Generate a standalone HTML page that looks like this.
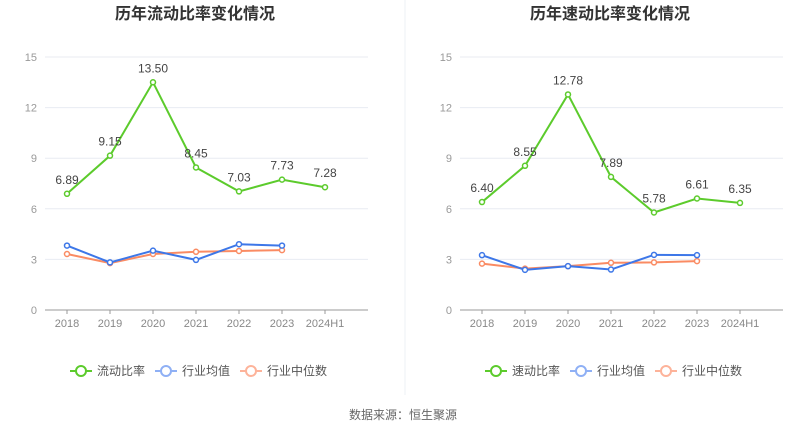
<!DOCTYPE html>
<html><head><meta charset="utf-8">
<style>
html,body{margin:0;padding:0;background:#fff;}
body{width:807px;height:436px;overflow:hidden;font-family:"Liberation Sans","Noto Sans CJK SC",sans-serif;}
svg text{font-family:"Liberation Sans","Noto Sans CJK SC",sans-serif;}
</style></head>
<body>
<svg id="c" width="807" height="436" xmlns="http://www.w3.org/2000/svg"></svg>
<script>
const categories=["2018","2019","2020","2021","2022","2023","2024H1"];
const yTicks=[0,3,6,9,12,15];
const leftMain=[6.89,9.15,13.50,8.45,7.03,7.73,7.28];
const leftAvg=[3.82,2.82,3.52,2.97,3.90,3.82];
const leftMed=[3.32,2.78,3.32,3.45,3.50,3.55];
const rightMain=[6.40,8.55,12.78,7.89,5.78,6.61,6.35];
const rightAvg=[3.25,2.38,2.60,2.40,3.27,3.25];
const rightMed=[2.75,2.45,2.60,2.80,2.82,2.90];
const leftTitle="历年流动比率变化情况", rightTitle="历年速动比率变化情况";
const leftLegend=["流动比率","行业均值","行业中位数"], rightLegend=["速动比率","行业均值","行业中位数"];

const NS="http://www.w3.org/2000/svg";
const svg=document.getElementById('c');
function mk(tag,attrs,parent){const e=document.createElementNS(NS,tag);for(const k in attrs)e.setAttribute(k,attrs[k]);(parent||svg).appendChild(e);return e;}
const Y0=310,Y15=57;
function yS(v){return Y0-(v/15)*(Y0-Y15);}

function panel(px,title,main,avg,med,legend,nm){
  const g=mk('g',{});
  
  
  const xS=i=>px+67+i*43;
  const t=mk('text',{x:px+195,y:19,'text-anchor':'middle','font-size':16,'font-weight':'bold',fill:'#333'},g);
  t.textContent=title;
  
  
  yTicks.forEach(v=>{
    if(v>0){const l=mk('line',{x1:px+45,x2:px+368,y1:yS(v),y2:yS(v),stroke:'#e8ebf2','stroke-width':1},g);
    
    }
    const tx=mk('text',{x:px+37,y:yS(v)+4,'text-anchor':'end','font-size':11,fill:'#999'},g);
    tx.textContent=v;
    
    
  });
  const ax=mk('line',{x1:px+45,x2:px+368,y1:Y0,y2:Y0,stroke:'#999','stroke-width':1},g);
  
  
  categories.forEach((c,i)=>{
    mk('line',{x1:xS(i),x2:xS(i),y1:Y0,y2:Y0+4,stroke:'#999'},g);
    const tx=mk('text',{x:xS(i),y:Y0+17,'text-anchor':'middle','font-size':11,fill:'#888'},g);
    tx.textContent=c;
    
    
  });
  function series(data,color,w,r,name,labels){
    const pts=data.map((v,i)=>xS(i)+','+yS(v)).join(' ');
    const pl=mk('polyline',{points:pts,fill:'none',stroke:color,'stroke-width':w},g);
    
    
    data.forEach((v,i)=>{
      const c=mk('circle',{cx:xS(i),cy:yS(v),r:r,fill:'#fff',stroke:color,'stroke-width':1.5},g);
      
      
      if(labels){const tx=mk('text',{x:xS(i),y:yS(v)-10,'text-anchor':'middle','font-size':12,fill:'#444'},g);
        tx.textContent=v.toFixed(2);
        
        }
    });
  }
  series(med,'#fa8b63',2,2.5,'median',false);
  series(avg,'#3d77e8',2,2.5,'average',false);
  series(main,'#5ccb2c',2,2.5,'main',true);
  const cols=['#5ccb2c','#8fb0f5','#fdb39a'];
  const lx=[px+70,px+155,px+240];
  legend.forEach((s,i)=>{
    const lg=mk('g',{},g);
    
    
    mk('line',{x1:lx[i],x2:lx[i]+22,y1:371,y2:371,stroke:cols[i],'stroke-width':2},lg);
    mk('circle',{cx:lx[i]+11,cy:371,r:5,fill:'#fff',stroke:cols[i],'stroke-width':2},lg);
    const tx=mk('text',{x:lx[i]+27,y:375,'font-size':12,fill:'#555'},lg);
    tx.textContent=s;
  });
}
panel(0,leftTitle,leftMain,leftAvg,leftMed,leftLegend,'current-ratio');
panel(415,rightTitle,rightMain,rightAvg,rightMed,rightLegend,'quick-ratio');
const dv=mk('line',{x1:405,x2:405,y1:0,y2:395,stroke:'#eef0f4','stroke-width':1});


const src=mk('text',{x:403,y:419,'text-anchor':'middle','font-size':12,fill:'#666'});
src.textContent="数据来源：恒生聚源";


</script>
</body></html>
